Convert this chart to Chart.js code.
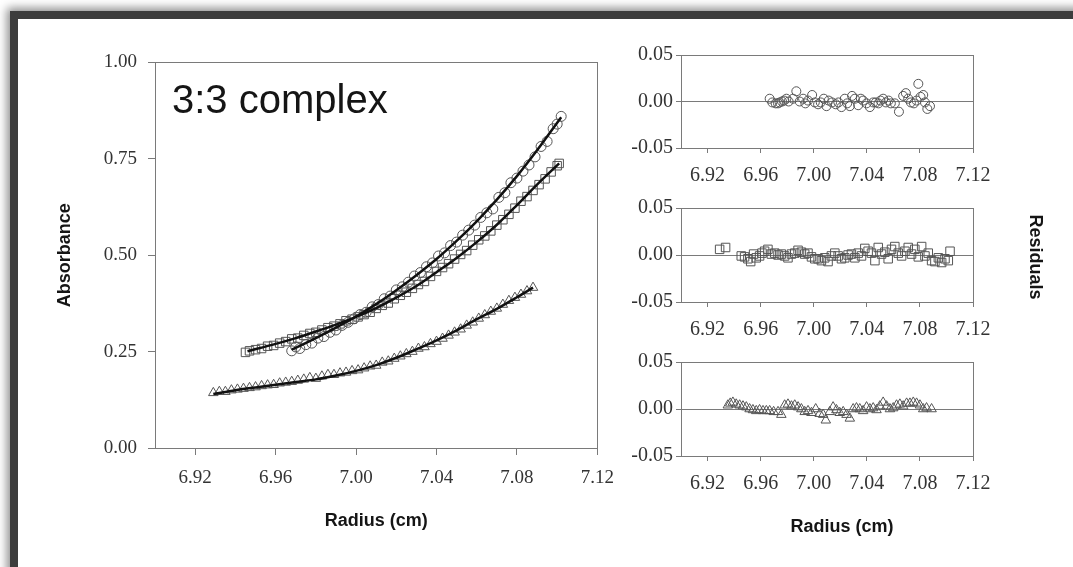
<!DOCTYPE html>
<html lang="en">
<head>
<meta charset="UTF-8">
<title>3:3 complex</title>
<script src="https://cdn.jsdelivr.net/npm/chart.js"></script>
<style>
  html, body { margin: 0; padding: 0; background: #fff; overflow: hidden; }
  #frame { position: absolute; left: 10px; top: 11px; width: 1100px; height: 600px;
           border-top: 8px solid #3d3d3d; border-left: 8px solid #3d3d3d;
           box-shadow: -3px -3px 9px rgba(0,0,0,0.45); background: #fff; }
  canvas { position: absolute; }
</style>
</head>
<body>
<div id="frame"></div>
<canvas id="main" width="606" height="500" style="left:20px;top:40px"></canvas>
<canvas id="res1" width="473" height="153" style="left:600px;top:40px"></canvas>
<canvas id="res2" width="473" height="154" style="left:600px;top:193px"></canvas>
<canvas id="res3" width="473" height="190" style="left:600px;top:347px"></canvas>
<script>
// tick values
const xTicks = [6.92, 6.96, 7.00, 7.04, 7.08, 7.12];
const absTicks = [0, 0.25, 0.50, 0.75, 1.00];
const resTicks = [-0.05, 0, 0.05];

// main plot - circles
const circX = [6.968, 6.970, 6.972, 6.975, 6.978, 6.981, 6.984, 6.987, 6.990, 6.993, 6.996, 6.999, 7.002, 7.005, 7.008, 7.011, 7.014, 7.017, 7.020, 7.023, 7.026, 7.029, 7.032, 7.035, 7.038, 7.041, 7.044, 7.047, 7.050, 7.053, 7.056, 7.059, 7.062, 7.065, 7.068, 7.071, 7.074, 7.077, 7.080, 7.083, 7.086, 7.089, 7.092, 7.095, 7.098, 7.100, 7.102];
const circY = [0.252, 0.262, 0.258, 0.268, 0.272, 0.285, 0.289, 0.300, 0.306, 0.318, 0.326, 0.335, 0.346, 0.352, 0.366, 0.372, 0.387, 0.394, 0.410, 0.418, 0.430, 0.446, 0.455, 0.470, 0.480, 0.498, 0.506, 0.525, 0.534, 0.552, 0.565, 0.578, 0.598, 0.610, 0.620, 0.650, 0.662, 0.688, 0.700, 0.718, 0.734, 0.755, 0.782, 0.795, 0.828, 0.840, 0.860];
// main plot - squares
const sqX = [6.945, 6.947, 6.950, 6.953, 6.956, 6.959, 6.962, 6.965, 6.968, 6.971, 6.974, 6.977, 6.980, 6.983, 6.986, 6.989, 6.992, 6.995, 6.998, 7.001, 7.004, 7.007, 7.010, 7.013, 7.016, 7.019, 7.022, 7.025, 7.028, 7.031, 7.034, 7.037, 7.040, 7.043, 7.046, 7.049, 7.052, 7.055, 7.058, 7.061, 7.064, 7.067, 7.070, 7.073, 7.076, 7.079, 7.082, 7.085, 7.088, 7.091, 7.094, 7.097, 7.100, 7.101];
const sqY = [0.248, 0.252, 0.255, 0.258, 0.264, 0.266, 0.272, 0.276, 0.283, 0.285, 0.292, 0.297, 0.300, 0.306, 0.312, 0.316, 0.322, 0.330, 0.334, 0.340, 0.346, 0.352, 0.362, 0.370, 0.376, 0.387, 0.396, 0.404, 0.414, 0.424, 0.432, 0.445, 0.458, 0.468, 0.478, 0.490, 0.502, 0.512, 0.526, 0.540, 0.550, 0.563, 0.578, 0.592, 0.606, 0.622, 0.640, 0.652, 0.668, 0.683, 0.698, 0.716, 0.732, 0.738];
// main plot - triangles
const triX = [6.929, 6.932, 6.935, 6.938, 6.941, 6.944, 6.947, 6.950, 6.953, 6.956, 6.959, 6.962, 6.965, 6.968, 6.971, 6.974, 6.977, 6.980, 6.983, 6.986, 6.989, 6.992, 6.995, 6.998, 7.001, 7.004, 7.007, 7.010, 7.013, 7.016, 7.019, 7.022, 7.025, 7.028, 7.031, 7.034, 7.037, 7.040, 7.043, 7.046, 7.049, 7.052, 7.055, 7.058, 7.061, 7.064, 7.067, 7.070, 7.073, 7.076, 7.079, 7.082, 7.085, 7.088];
const triY = [0.143, 0.146, 0.146, 0.150, 0.152, 0.154, 0.156, 0.158, 0.161, 0.163, 0.164, 0.168, 0.170, 0.172, 0.175, 0.178, 0.182, 0.180, 0.186, 0.190, 0.190, 0.194, 0.196, 0.200, 0.202, 0.207, 0.212, 0.214, 0.222, 0.225, 0.232, 0.238, 0.244, 0.250, 0.258, 0.262, 0.270, 0.276, 0.284, 0.292, 0.300, 0.308, 0.318, 0.326, 0.336, 0.345, 0.354, 0.362, 0.372, 0.382, 0.390, 0.398, 0.407, 0.416];

// fitted curves
const circFitX = [6.968, 6.980, 6.990, 7.000, 7.010, 7.020, 7.030, 7.040, 7.050, 7.060, 7.070, 7.080, 7.090, 7.102];
const circFitY = [0.255, 0.285, 0.312, 0.341, 0.373, 0.409, 0.448, 0.490, 0.537, 0.588, 0.644, 0.705, 0.772, 0.858];
const sqFitX = [6.946, 6.960, 6.970, 6.980, 6.990, 7.000, 7.010, 7.020, 7.030, 7.040, 7.050, 7.060, 7.070, 7.080, 7.090, 7.101];
const sqFitY = [0.251, 0.270, 0.285, 0.302, 0.320, 0.340, 0.363, 0.390, 0.420, 0.456, 0.493, 0.534, 0.579, 0.630, 0.683, 0.738];
const triFitX = [6.929, 6.940, 6.950, 6.960, 6.970, 6.980, 6.990, 7.000, 7.010, 7.020, 7.030, 7.040, 7.050, 7.060, 7.070, 7.080, 7.088];
const triFitY = [0.140, 0.150, 0.157, 0.164, 0.171, 0.178, 0.188, 0.200, 0.215, 0.234, 0.256, 0.279, 0.305, 0.334, 0.361, 0.391, 0.416];

// residuals
const resCircX = [6.9668, 6.9688, 6.9713, 6.9731, 6.9743, 6.9761, 6.9776, 6.9794, 6.9811, 6.9844, 6.9869, 6.9894, 6.9920, 6.9937, 6.9957, 6.9988, 7.0008, 7.0033, 7.0053, 7.0076, 7.0096, 7.0113, 7.0138, 7.0166, 7.0186, 7.0209, 7.0234, 7.0252, 7.0272, 7.0289, 7.0310, 7.0335, 7.0355, 7.0372, 7.0398, 7.0423, 7.0448, 7.0468, 7.0488, 7.0503, 7.0523, 7.0544, 7.0564, 7.0581, 7.0611, 7.0642, 7.0674, 7.0694, 7.0712, 7.0732, 7.0755, 7.0775, 7.0788, 7.0805, 7.0825, 7.0838, 7.0856, 7.0876];
const resCircR = [0.003, -0.001, -0.002, -0.002, -0.001, 0.000, 0.001, 0.003, 0.000, 0.003, 0.011, 0.000, 0.003, -0.002, 0.001, 0.007, -0.001, -0.003, -0.001, 0.003, -0.005, 0.001, -0.001, -0.003, -0.001, -0.006, 0.003, -0.002, -0.005, 0.006, 0.003, -0.004, 0.003, 0.001, -0.002, -0.006, -0.001, -0.001, -0.002, 0.001, 0.003, -0.001, 0.001, -0.002, -0.002, -0.011, 0.006, 0.009, 0.003, -0.001, -0.002, 0.001, 0.019, 0.005, 0.007, -0.001, -0.008, -0.005];
const resSqX = [6.9291, 6.9336, 6.9454, 6.9479, 6.9504, 6.9525, 6.9547, 6.9567, 6.9592, 6.9610, 6.9630, 6.9655, 6.9681, 6.9706, 6.9731, 6.9756, 6.9781, 6.9806, 6.9832, 6.9857, 6.9882, 6.9907, 6.9932, 6.9957, 6.9983, 7.0008, 7.0033, 7.0058, 7.0083, 7.0108, 7.0133, 7.0159, 7.0184, 7.0209, 7.0234, 7.0259, 7.0284, 7.0310, 7.0335, 7.0360, 7.0385, 7.0410, 7.0435, 7.0461, 7.0486, 7.0511, 7.0536, 7.0561, 7.0586, 7.0611, 7.0637, 7.0662, 7.0687, 7.0712, 7.0737, 7.0762, 7.0788, 7.0813, 7.0838, 7.0863, 7.0888, 7.0913, 7.0939, 7.0964, 7.0989, 7.1014, 7.1027];
const resSqR = [0.006, 0.008, -0.001, -0.002, -0.004, -0.007, 0.001, -0.003, -0.001, 0.002, 0.004, 0.006, 0.001, 0.002, 0.000, 0.001, -0.001, -0.003, 0.001, 0.002, 0.005, 0.003, 0.001, 0.002, -0.002, -0.004, -0.004, -0.006, -0.003, -0.007, -0.001, 0.002, -0.001, -0.004, -0.003, 0.000, 0.001, -0.003, 0.002, -0.001, 0.007, 0.004, 0.002, -0.006, 0.008, 0.001, 0.003, -0.004, 0.006, 0.009, 0.002, -0.001, 0.004, 0.008, 0.001, 0.006, -0.002, 0.009, -0.001, 0.002, -0.006, -0.007, -0.003, -0.008, -0.004, -0.006, 0.004];
const resTriX = [6.9353, 6.9371, 6.9391, 6.9416, 6.9442, 6.9467, 6.9492, 6.9517, 6.9542, 6.9567, 6.9592, 6.9618, 6.9643, 6.9668, 6.9698, 6.9731, 6.9756, 6.9781, 6.9806, 6.9832, 6.9857, 6.9882, 6.9907, 6.9932, 6.9957, 6.9983, 7.0015, 7.0045, 7.0071, 7.0091, 7.0121, 7.0146, 7.0171, 7.0196, 7.0222, 7.0247, 7.0272, 7.0297, 7.0322, 7.0347, 7.0372, 7.0398, 7.0423, 7.0448, 7.0473, 7.0498, 7.0523, 7.0549, 7.0574, 7.0599, 7.0624, 7.0649, 7.0674, 7.0700, 7.0725, 7.0750, 7.0775, 7.0800, 7.0825, 7.0850, 7.0888];
const resTriR = [0.004, 0.006, 0.007, 0.005, 0.004, 0.003, 0.002, 0.000, -0.001, -0.002, -0.001, -0.002, -0.002, -0.002, -0.003, -0.003, -0.006, 0.004, 0.005, 0.003, 0.004, 0.002, 0.000, -0.003, -0.002, -0.004, 0.000, -0.005, -0.006, -0.012, -0.003, 0.002, -0.001, -0.004, -0.003, -0.006, -0.010, 0.000, 0.001, 0.000, -0.002, 0.002, 0.000, 0.001, -0.001, 0.003, 0.007, 0.003, 0.000, 0.001, 0.004, 0.005, 0.003, 0.006, 0.006, 0.007, 0.006, 0.004, 0.000, 0.001, 0.000];

const pts = (xs, ys) => xs.map((x, i) => ({x: x, y: ys[i]}));

const AXIS = '#7a7a7a';
const TICKFONT = {family: 'Liberation Serif', size: 19};
const TITLEFONT = {family: 'Liberation Sans', size: 18, weight: 'bold'};

// full box round the plot area
const boxPlugin = {
  id: 'box',
  afterDatasetsDraw(chart) {
    const {ctx, chartArea: a} = chart;
    ctx.save();
    ctx.strokeStyle = AXIS;
    ctx.lineWidth = 1;
    ctx.strokeRect(Math.round(a.left) + 0.5, Math.round(a.top) + 0.5,
                   Math.round(a.right - a.left), Math.round(a.bottom - a.top));
    ctx.restore();
  }
};

function textPlugin(id, text, font, dx, dy, rot, from) {
  return {
    id: id,
    afterDraw(chart) {
      const {ctx, chartArea: a} = chart;
      ctx.save();
      ctx.font = font;
      ctx.fillStyle = '#151515';
      const bx = from === 'left' ? a.left : a.right;
      ctx.translate(bx + dx, a.top + dy);
      ctx.rotate(rot);
      ctx.textAlign = from === 'left' && rot === 0 && id === 'label' ? 'left' : 'center';
      ctx.textBaseline = id === 'label' ? 'alphabetic' : 'middle';
      ctx.fillText(text, 0, 0);
      ctx.restore();
    }
  };
}

function fitSet(xs, ys) {
  return {data: pts(xs, ys), showLine: true, pointRadius: 0, borderColor: '#111',
          borderWidth: 2.5, tension: 0.4, cubicInterpolationMode: 'monotone', fill: false};
}
function markSet(xs, ys, style, r) {
  return {data: pts(xs, ys), pointStyle: style, pointRadius: r, borderColor: '#555',
          backgroundColor: 'rgba(255,255,255,0)', pointBorderWidth: 1, showLine: false};
}

const common = {
  responsive: false, animation: false, events: [],
  plugins: {legend: {display: false}, tooltip: {enabled: false}}
};

new Chart(document.getElementById('main'), {
  type: 'scatter',
  data: {datasets: [
    fitSet(circFitX, circFitY), fitSet(sqFitX, sqFitY), fitSet(triFitX, triFitY),
    markSet(circX, circY, 'circle', 5), markSet(sqX, sqY, 'rect', 6), markSet(triX, triY, 'triangle', 5.5)
  ]},
  options: Object.assign({}, common, {
    layout: {padding: {top: 21, right: 17, left: 0, bottom: 0}},
    scales: {
      x: {
        type: 'linear', min: 6.90, max: 7.12,
        afterBuildTicks: s => { s.ticks = xTicks.map(v => ({value: v})); },
        afterFit: s => { s.height = 92; },
        grid: {drawOnChartArea: false, color: AXIS, tickColor: AXIS, tickLength: 7},
        border: {color: AXIS},
        ticks: {font: TICKFONT, color: '#333', padding: 12, maxRotation: 0, autoSkip: false,
                callback: v => v.toFixed(2)},
        title: {display: true, text: 'Radius (cm)', font: TITLEFONT, color: '#151515',
                padding: {top: 0, bottom: 8}}
      },
      y: {
        min: 0, max: 1,
        afterBuildTicks: s => { s.ticks = absTicks.map(v => ({value: v})); },
        afterFit: s => { s.width = 135; },
        grid: {drawOnChartArea: false, color: AXIS, tickColor: AXIS, tickLength: 7},
        border: {color: AXIS},
        ticks: {font: TICKFONT, color: '#333', padding: 11, autoSkip: false,
                callback: v => v.toFixed(2)},
        title: {display: true, text: 'Absorbance', font: TITLEFONT, color: '#151515',
                padding: {top: 34, bottom: 0}}
      }
    }
  }),
  plugins: [boxPlugin, textPlugin('label', '3:3 complex', '40px "Liberation Sans"', 17, 51, 0, 'left')]
});

function residChart(id, xs, rs, style, r, xAxisH, extra) {
  new Chart(document.getElementById(id), {
    type: 'scatter',
    data: {datasets: [markSet(xs, rs, style, r)]},
    options: Object.assign({}, common, {
      layout: {padding: {top: 11, right: 100, left: 0, bottom: 0}},
      scales: {
        x: {
          type: 'linear', min: 6.90, max: 7.12,
          afterBuildTicks: s => { s.ticks = xTicks.map(v => ({value: v})); },
          afterFit: s => { s.height = xAxisH; },
          grid: {drawOnChartArea: false, color: AXIS, tickColor: AXIS, tickLength: 5},
          border: {color: AXIS},
          ticks: {font: {family: 'Liberation Serif', size: 20}, color: '#333', padding: 11,
                  maxRotation: 0, autoSkip: false, callback: v => v.toFixed(2)}
        },
        y: {
          min: -0.05, max: 0.05,
          afterBuildTicks: s => { s.ticks = resTicks.map(v => ({value: v})); },
          afterFit: s => { s.width = 81; },
          grid: {color: c => Math.abs(c.tick.value) < 1e-9 ? AXIS : 'rgba(0,0,0,0)',
                 tickColor: AXIS, tickLength: 5},
          border: {color: AXIS},
          ticks: {font: {family: 'Liberation Serif', size: 20}, color: '#333', padding: 3,
                  autoSkip: false, callback: v => v.toFixed(2)}
        }
      }
    }),
    plugins: [boxPlugin].concat(extra)
  });
}

residChart('res1', resCircX, resCircR, 'circle', 4.5, 45, []);
residChart('res2', resSqX, resSqR, 'rect', 6, 45,
  [textPlugin('resid', 'Residuals', 'bold 18px "Liberation Sans"', 62, 49, Math.PI / 2, 'right')]);
residChart('res3', resTriX, resTriR, 'triangle', 5.5, 81,
  [textPlugin('xt', 'Radius (cm)', 'bold 18px "Liberation Sans"', 161, 165, 0, 'left')]);
</script>
</body>
</html>
